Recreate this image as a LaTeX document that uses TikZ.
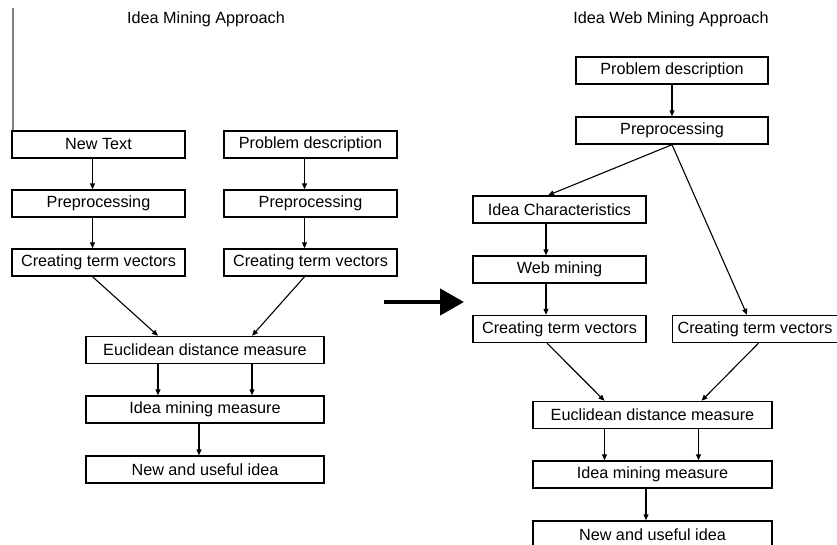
\documentclass[tikz,border=0pt]{standalone}
\usepackage{fontspec}
\setmainfont{Liberation Sans}
\usepackage{tikz}
\usetikzlibrary{
	arrows.meta,
	positioning,
	calc
}
\usepackage{xcolor}

\begin{document}
\begin{tikzpicture}[x=1pt,y=-1pt,>={Triangle[length=6pt,width=5pt]},
		stage/.style={draw,line width=1.4pt,minimum height=27pt,inner sep=0pt,
			font=\fontsize{16.2}{19}\selectfont},
		flow/.style={->,line width=1.1pt},
		heading/.style={font=\fontsize{16.2}{19}\selectfont}]
		
		\useasboundingbox (0,0) rectangle (837,545);
		
		% edge of the page on the left
		\draw[gray,line width=2.5pt] (13,8) -- (13,131);
		
		% Idea mining approach
		\node[heading] (titleA) at (206,19) {Idea Mining Approach};
		
		\node[stage,minimum width=173pt] (ntxt) at (98.5,144.5) {New Text};
		\node[stage,minimum width=173pt] (pdA) at (310.5,144.5) {Problem description};
		\node[stage,minimum width=173pt] (prepA1) at (98.5,203.5) {Preprocessing};
		\node[stage,minimum width=173pt] (prepA2) at (310.5,203.5) {Preprocessing};
		\node[stage,minimum width=173pt] (ctvA1) at (98.5,262.5) {Creating term vectors};
		\node[stage,minimum width=173pt] (ctvA2) at (310.5,262.5) {Creating term vectors};
		\node[stage,minimum width=238pt] (eucA) at (205,350) {Euclidean distance measure};
		\node[stage,minimum width=238pt] (mineA) at (205,409.5) {Idea mining measure};
		\node[stage,minimum width=238pt] (newA) at (205,469.5) {New and useful idea};
		
		\draw[flow] ([xshift=-6pt]ntxt.south) -- ([xshift=-6pt]prepA1.north);
		\draw[flow] ([xshift=-6pt]pdA.south) -- ([xshift=-6pt]prepA2.north);
		\draw[flow] ([xshift=-6pt]prepA1.south) -- ([xshift=-6pt]ctvA1.north);
		\draw[flow] ([xshift=-6pt]prepA2.south) -- ([xshift=-6pt]ctvA2.north);
		\draw[flow] ([xshift=-6pt]ctvA1.south) -- ([xshift=-47pt]eucA.north);
		\draw[flow] ([xshift=-6pt]ctvA2.south) -- ([xshift=47pt]eucA.north);
		\draw[flow] ([xshift=-47pt]eucA.south) -- ([xshift=-47pt]mineA.north);
		\draw[flow] ([xshift=47pt]eucA.south) -- ([xshift=47pt]mineA.north);
		\draw[flow] ([xshift=-6pt]mineA.south) -- ([xshift=-6pt]newA.north);
		
		% the big arrow between both
		\coordinate (goL) at (384,302);
		\coordinate (goR) at (464,302);
		\draw[line width=4.5pt,-{Triangle[length=24pt,width=26pt]}] (goL) -- (goR);
		
		% Idea web mining approach
		\node[heading] (titleB) at (671,19) {Idea Web Mining Approach};
		
		\node[stage,minimum width=192pt] (pdB) at (672,70.5) {Problem description};
		\node[stage,minimum width=192pt] (prepB) at (672,130.5) {Preprocessing};
		\node[stage,minimum width=173pt] (chr) at (559.5,209.5) {Idea Characteristics};
		\node[stage,minimum width=173pt] (web) at (559.5,269.5) {Web mining};
		\node[stage,minimum width=173pt] (ctvB1) at (559.5,329) {Creating term vectors};
		\node[stage,minimum width=165pt] (ctvB2) at (755,329) {Creating term vectors};
		\node[stage,minimum width=239pt] (eucB) at (652.5,415) {Euclidean distance measure};
		\node[stage,minimum width=239pt] (mineB) at (652.5,474.5) {Idea mining measure};
		\node[stage,minimum width=239pt] (newB) at (652.5,534.5) {New and useful idea};
		
		\draw[flow] (pdB.south) -- (prepB.north);
		\draw[flow] (prepB.south) -- ([xshift=-11.5pt]chr.north);
		\draw[flow] (prepB.south) -- ([xshift=-8pt]ctvB2.north);
		\draw[flow] ([xshift=-13.5pt]chr.south) -- ([xshift=-13.5pt]web.north);
		\draw[flow] ([xshift=-13.5pt]web.south) -- ([xshift=-13.5pt]ctvB1.north);
		\draw[flow] ([xshift=-12.5pt]ctvB1.south) -- ([xshift=-48pt]eucB.north);
		\draw[flow] ([xshift=3.5pt]ctvB2.south) -- ([xshift=49pt]eucB.north);
		\draw[flow] ([xshift=-48pt]eucB.south) -- ([xshift=-48pt]mineB.north);
		\draw[flow] ([xshift=46pt]eucB.south) -- ([xshift=46pt]mineB.north);
		\draw[flow] ([xshift=-6.5pt]mineB.south) -- ([xshift=-6.5pt]newB.north);
		
	\end{tikzpicture}
\end{document}
